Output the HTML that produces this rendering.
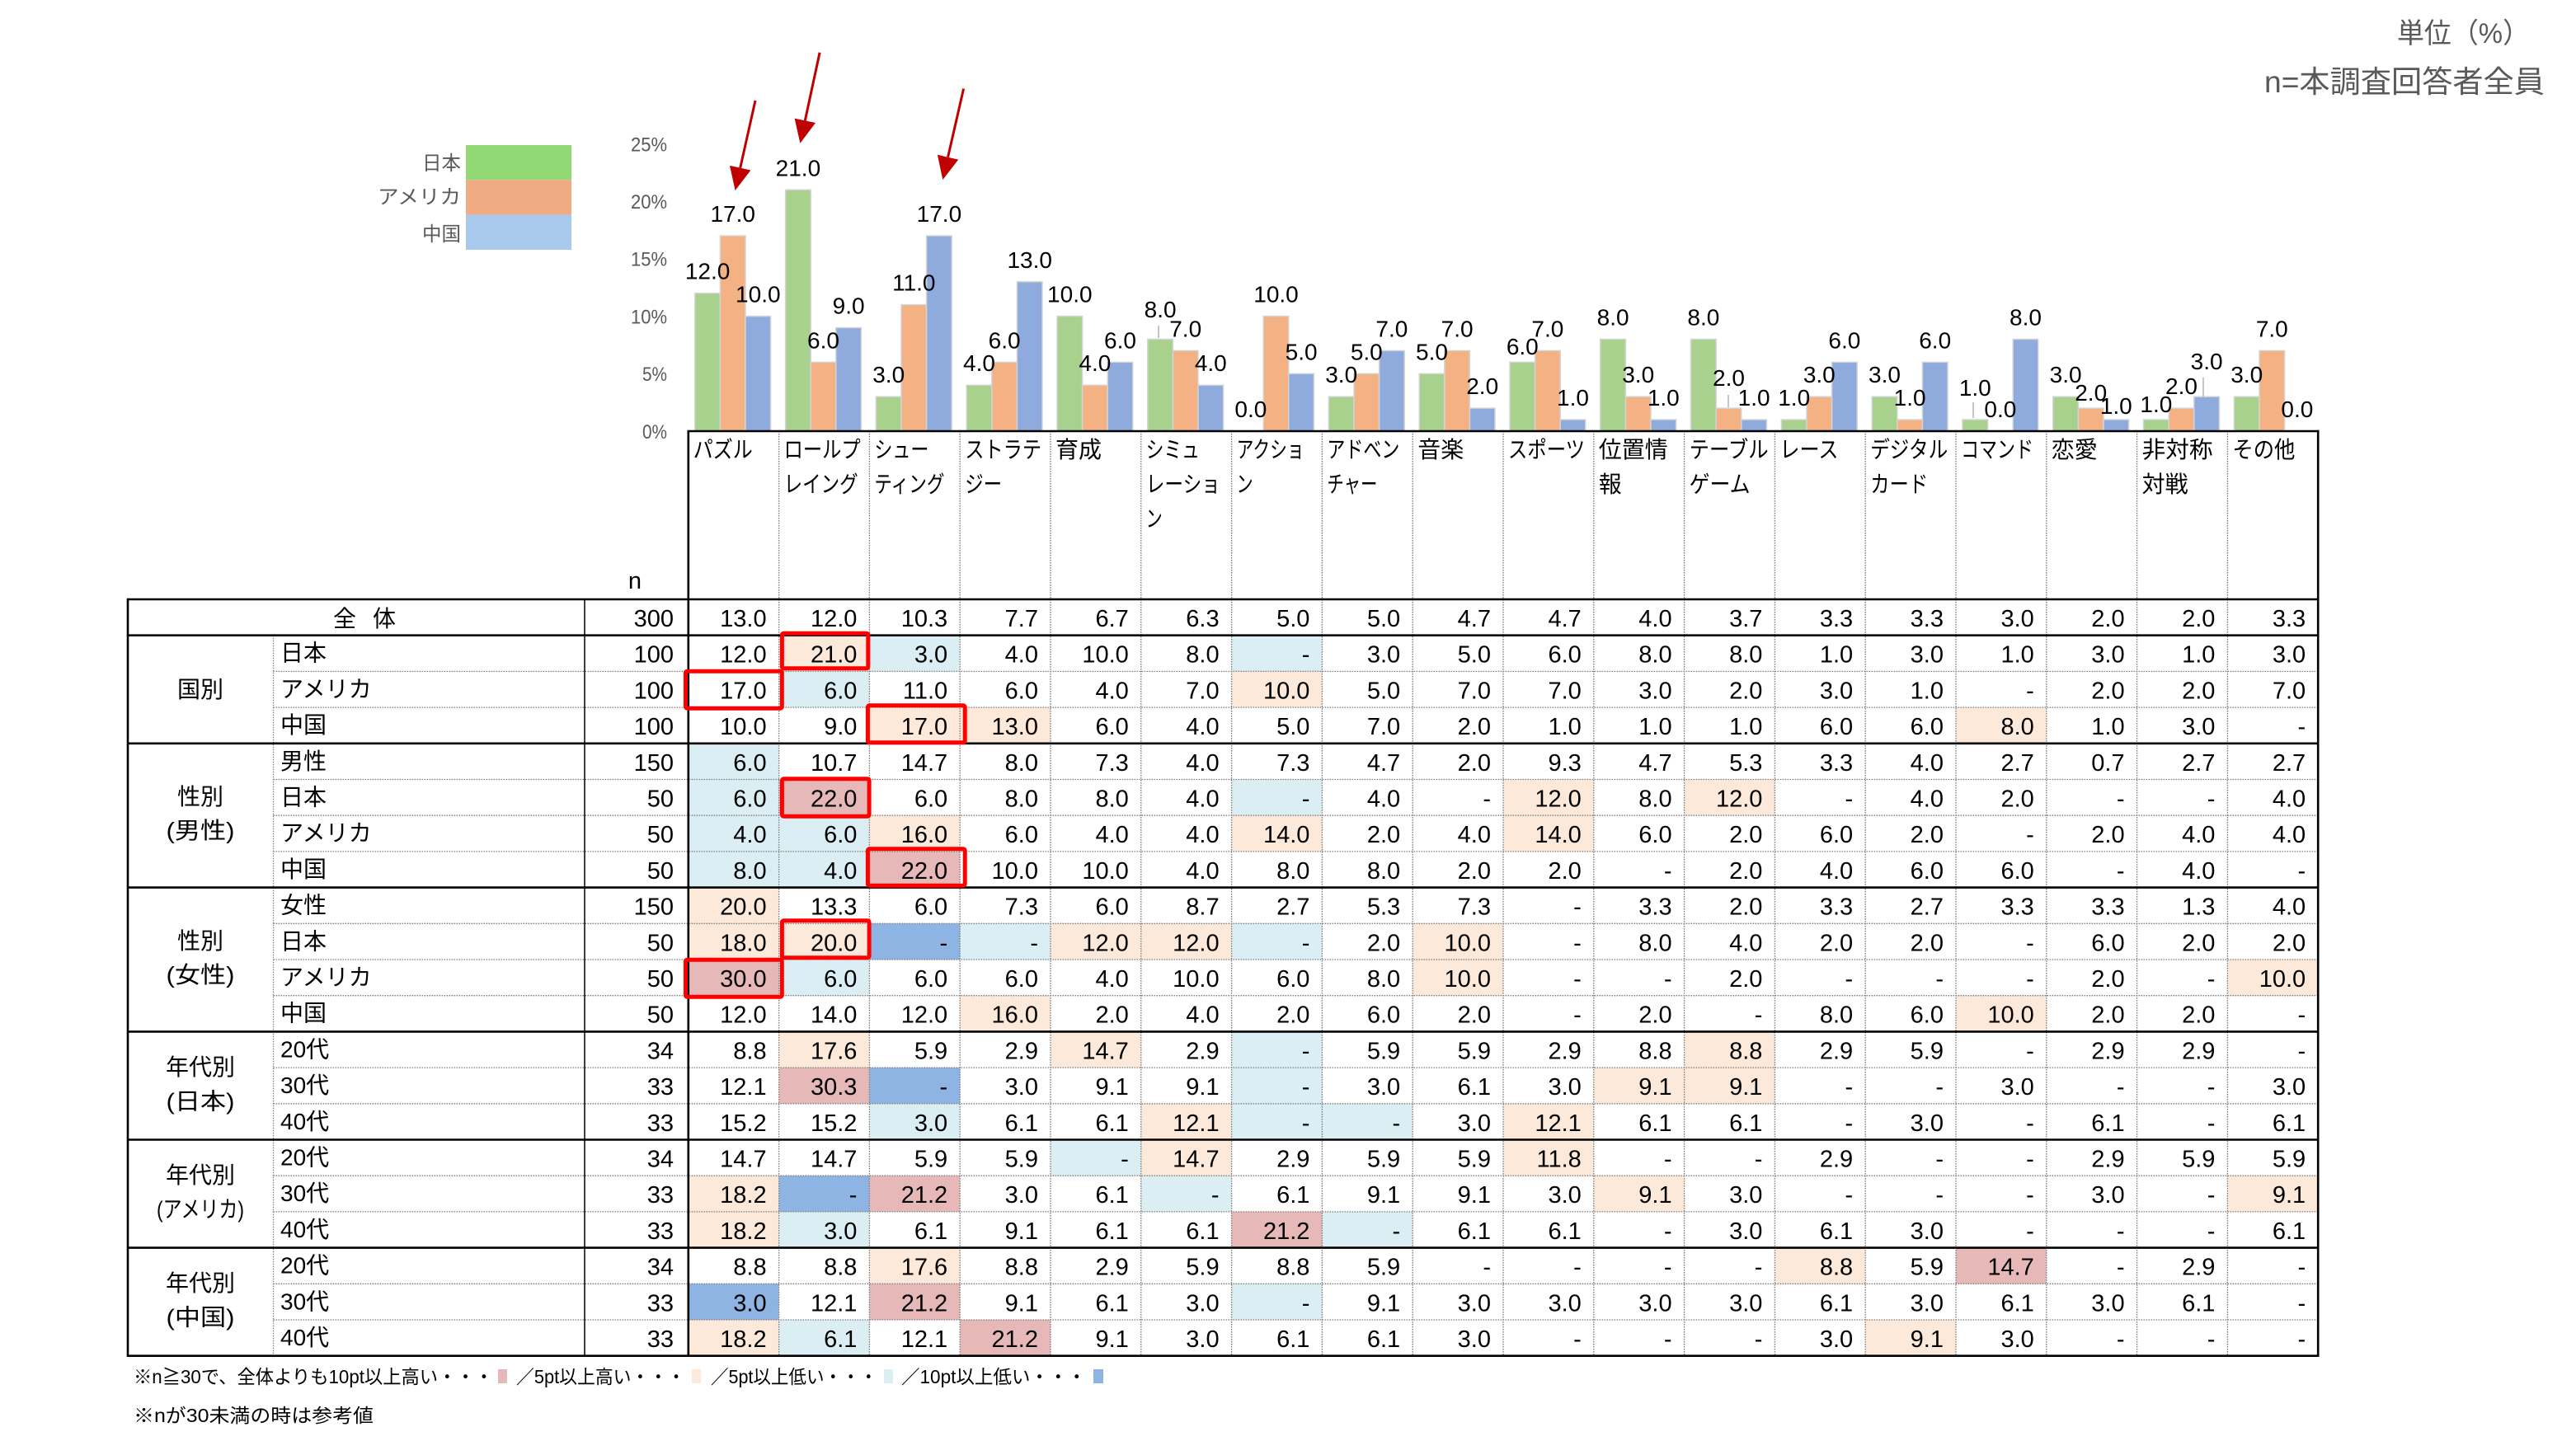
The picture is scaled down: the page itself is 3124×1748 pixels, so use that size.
<!DOCTYPE html>
<html><head><meta charset="utf-8"><style>
html,body{margin:0;padding:0;background:#fff;}
svg{display:block;}
text{font-family:"Liberation Sans","Noto Sans CJK JP",sans-serif;}
.d text{font-size:29px;text-anchor:end;fill:#000;}
.lab text{font-size:28px;fill:#000;text-anchor:middle;}
.cat text{font-size:28px;fill:#000;}
.sub text{font-size:28px;fill:#000;}
.grp text{font-size:28px;fill:#000;text-anchor:middle;}
.ax text{font-size:24px;fill:#595959;text-anchor:end;}
.lb{fill:#DAEEF3}.lo{fill:#FDE9D9}.pk{fill:#E6B8B7}.bl{fill:#8DB4E2}
.cells rect{width:109.8px;height:43.7px;}
.dot{stroke:#808080;stroke-width:1.3;stroke-dasharray:1.6 1.4;fill:none;}
.foot text{font-size:23px;fill:#000;}
</style></head><body>
<svg width="3124" height="1748" viewBox="0 0 3124 1748" xmlns="http://www.w3.org/2000/svg">
<rect x="0" y="0" width="3124" height="1748" fill="#fff"/>

<!-- top right -->
<text x="3068" y="52" font-size="34" fill="#595959" text-anchor="end" textLength="161" lengthAdjust="spacingAndGlyphs">単位（%）</text>
<text x="2746" y="112" font-size="37" fill="#595959" textLength="340" lengthAdjust="spacingAndGlyphs">n=本調査回答者全員</text>

<!-- legend -->
<rect x="565" y="176" width="128" height="42.3" fill="#92D874"/>
<rect x="565" y="218.3" width="128" height="42.3" fill="#F0AA84"/>
<rect x="565" y="260.6" width="128" height="42.4" fill="#A8C8EC"/>
<g class="ax">
<text x="559" y="206" textLength="47" lengthAdjust="spacingAndGlyphs">日本</text>
<text x="559" y="247" textLength="101" lengthAdjust="spacingAndGlyphs">アメリカ</text>
<text x="559" y="292" textLength="47" lengthAdjust="spacingAndGlyphs">中国</text>
</g>

<!-- y axis labels -->
<g class="ax">
<text x="809" y="183.5" textLength="44" lengthAdjust="spacingAndGlyphs">25%</text>
<text x="809" y="253" textLength="44" lengthAdjust="spacingAndGlyphs">20%</text>
<text x="809" y="322.7" textLength="44" lengthAdjust="spacingAndGlyphs">15%</text>
<text x="809" y="392.4" textLength="44" lengthAdjust="spacingAndGlyphs">10%</text>
<text x="809" y="462" textLength="30" lengthAdjust="spacingAndGlyphs">5%</text>
<text x="809" y="531.8" textLength="30" lengthAdjust="spacingAndGlyphs">0%</text>
</g>

<!-- bars -->
<g fill="#A9D18E" stroke="#D4D4D4" stroke-width="1.5">
<rect x="842.8" y="355.72" width="30.6" height="167.28"/>
<rect x="952.6" y="230.26" width="30.6" height="292.74"/>
<rect x="1062.4" y="481.18" width="30.6" height="41.82"/>
<rect x="1172.2" y="467.24" width="30.6" height="55.76"/>
<rect x="1282" y="383.6" width="30.6" height="139.4"/>
<rect x="1391.8" y="411.48" width="30.6" height="111.52"/>
<rect x="1611.4" y="481.18" width="30.6" height="41.82"/>
<rect x="1721.2" y="453.3" width="30.6" height="69.7"/>
<rect x="1831" y="439.36" width="30.6" height="83.64"/>
<rect x="1940.8" y="411.48" width="30.6" height="111.52"/>
<rect x="2050.6" y="411.48" width="30.6" height="111.52"/>
<rect x="2160.4" y="509.06" width="30.6" height="13.94"/>
<rect x="2270.2" y="481.18" width="30.6" height="41.82"/>
<rect x="2380" y="509.06" width="30.6" height="13.94"/>
<rect x="2489.8" y="481.18" width="30.6" height="41.82"/>
<rect x="2599.6" y="509.06" width="30.6" height="13.94"/>
<rect x="2709.4" y="481.18" width="30.6" height="41.82"/>
</g>
<g fill="#F4B183" stroke="#D4D4D4" stroke-width="1.5">
<rect x="873.4" y="286.02" width="30.6" height="236.98"/>
<rect x="983.2" y="439.36" width="30.6" height="83.64"/>
<rect x="1093" y="369.66" width="30.6" height="153.34"/>
<rect x="1202.8" y="439.36" width="30.6" height="83.64"/>
<rect x="1312.6" y="467.24" width="30.6" height="55.76"/>
<rect x="1422.4" y="425.42" width="30.6" height="97.58"/>
<rect x="1532.2" y="383.6" width="30.6" height="139.4"/>
<rect x="1642" y="453.3" width="30.6" height="69.7"/>
<rect x="1751.8" y="425.42" width="30.6" height="97.58"/>
<rect x="1861.6" y="425.42" width="30.6" height="97.58"/>
<rect x="1971.4" y="481.18" width="30.6" height="41.82"/>
<rect x="2081.2" y="495.12" width="30.6" height="27.88"/>
<rect x="2191" y="481.18" width="30.6" height="41.82"/>
<rect x="2300.8" y="509.06" width="30.6" height="13.94"/>
<rect x="2520.4" y="495.12" width="30.6" height="27.88"/>
<rect x="2630.2" y="495.12" width="30.6" height="27.88"/>
<rect x="2740" y="425.42" width="30.6" height="97.58"/>
</g>
<g fill="#8FAADC" stroke="#D4D4D4" stroke-width="1.5">
<rect x="904" y="383.6" width="30.6" height="139.4"/>
<rect x="1013.8" y="397.54" width="30.6" height="125.46"/>
<rect x="1123.6" y="286.02" width="30.6" height="236.98"/>
<rect x="1233.4" y="341.78" width="30.6" height="181.22"/>
<rect x="1343.2" y="439.36" width="30.6" height="83.64"/>
<rect x="1453" y="467.24" width="30.6" height="55.76"/>
<rect x="1562.8" y="453.3" width="30.6" height="69.7"/>
<rect x="1672.6" y="425.42" width="30.6" height="97.58"/>
<rect x="1782.4" y="495.12" width="30.6" height="27.88"/>
<rect x="1892.2" y="509.06" width="30.6" height="13.94"/>
<rect x="2002" y="509.06" width="30.6" height="13.94"/>
<rect x="2111.8" y="509.06" width="30.6" height="13.94"/>
<rect x="2221.6" y="439.36" width="30.6" height="83.64"/>
<rect x="2331.4" y="439.36" width="30.6" height="83.64"/>
<rect x="2441.2" y="411.48" width="30.6" height="111.52"/>
<rect x="2551" y="509.06" width="30.6" height="13.94"/>
<rect x="2660.8" y="481.18" width="30.6" height="41.82"/>
</g>

<!-- leader lines -->
<g stroke="#A6A6A6" stroke-width="1.3">
<line x1="1405" y1="395" x2="1405" y2="410"/>
<line x1="2096" y1="479" x2="2096" y2="494"/>
<line x1="2393" y1="488" x2="2393" y2="507"/>
<line x1="2672" y1="458" x2="2672" y2="481"/>
</g>

<!-- data labels -->
<g class="lab">
<text x="858.1" y="338.72">12.0</text>
<text x="967.9" y="213.26">21.0</text>
<text x="1077.7" y="464.18">3.0</text>
<text x="1187.5" y="450.24">4.0</text>
<text x="1297.3" y="366.6">10.0</text>
<text x="1407.1" y="385">8.0</text>
<text x="1516.9" y="506">0.0</text>
<text x="1626.7" y="464.18">3.0</text>
<text x="1736.5" y="436.3">5.0</text>
<text x="1846.3" y="430">6.0</text>
<text x="1956.1" y="394.48">8.0</text>
<text x="2065.9" y="394.48">8.0</text>
<text x="2175.7" y="492.06">1.0</text>
<text x="2285.5" y="464.18">3.0</text>
<text x="2395.3" y="480">1.0</text>
<text x="2505.1" y="464.18">3.0</text>
<text x="2614.9" y="500">1.0</text>
<text x="2724.7" y="464.18">3.0</text>

<text x="888.7" y="269.02">17.0</text>
<text x="998.5" y="422.36">6.0</text>
<text x="1108.3" y="352.66">11.0</text>
<text x="1218.1" y="422.36">6.0</text>
<text x="1327.9" y="450.24">4.0</text>
<text x="1437.7" y="408.42">7.0</text>
<text x="1547.5" y="366.6">10.0</text>
<text x="1657.3" y="436.3">5.0</text>
<text x="1767.1" y="408.42">7.0</text>
<text x="1876.9" y="408.42">7.0</text>
<text x="1986.7" y="464.18">3.0</text>
<text x="2096.5" y="468">2.0</text>
<text x="2206.3" y="464.18">3.0</text>
<text x="2316.1" y="492.06">1.0</text>
<text x="2425.9" y="506">0.0</text>
<text x="2535.7" y="486">2.0</text>
<text x="2645.5" y="478.12">2.0</text>
<text x="2755.3" y="408.42">7.0</text>

<text x="919.3" y="366.6">10.0</text>
<text x="1029.1" y="380.54">9.0</text>
<text x="1138.9" y="269.02">17.0</text>
<text x="1248.7" y="324.78">13.0</text>
<text x="1358.5" y="422.36">6.0</text>
<text x="1468.3" y="450.24">4.0</text>
<text x="1578.1" y="436.3">5.0</text>
<text x="1687.9" y="408.42">7.0</text>
<text x="1797.7" y="478.12">2.0</text>
<text x="1907.5" y="492.06">1.0</text>
<text x="2017.3" y="492.06">1.0</text>
<text x="2127.1" y="492.06">1.0</text>
<text x="2236.9" y="422.36">6.0</text>
<text x="2346.7" y="422.36">6.0</text>
<text x="2456.5" y="394.48">8.0</text>
<text x="2566.3" y="502">1.0</text>
<text x="2676.1" y="448">3.0</text>
<text x="2785.9" y="506">0.0</text>
</g>

<!-- red arrows -->
<g stroke="#C00000" stroke-width="3" fill="#C00000">
<line x1="916" y1="122" x2="897.7" y2="203.7"/>
<polygon stroke="none" points="891.6,231 910.4,206.5 885,200.9"/>
<line x1="994.1" y1="63.7" x2="976.3" y2="146.3"/>
<polygon stroke="none" points="970.4,173.7 989,149 963.6,143.6"/>
<line x1="1168.6" y1="107.6" x2="1149.55" y2="190.7"/>
<polygon stroke="none" points="1143.3,218 1162.2,193.6 1136.9,187.8"/>
</g>

<!-- category labels -->
<g class="cat">
<text x="840.8" y="555" textLength="72" lengthAdjust="spacingAndGlyphs">パズル</text>
<text x="950.6" y="555" textLength="93" lengthAdjust="spacingAndGlyphs">ロールプ</text>
<text x="950.6" y="597" textLength="90" lengthAdjust="spacingAndGlyphs">レイング</text>
<text x="1060.4" y="555" textLength="66" lengthAdjust="spacingAndGlyphs">シュー</text>
<text x="1060.4" y="597" textLength="85" lengthAdjust="spacingAndGlyphs">ティング</text>
<text x="1170.2" y="555" textLength="93" lengthAdjust="spacingAndGlyphs">ストラテ</text>
<text x="1170.2" y="597" textLength="45" lengthAdjust="spacingAndGlyphs">ジー</text>
<text x="1280" y="555">育成</text>
<text x="1389.8" y="555" textLength="65" lengthAdjust="spacingAndGlyphs">シミュ</text>
<text x="1389.8" y="597" textLength="90" lengthAdjust="spacingAndGlyphs">レーショ</text>
<text x="1389.8" y="639" textLength="20" lengthAdjust="spacingAndGlyphs">ン</text>
<text x="1499.6" y="555" textLength="82" lengthAdjust="spacingAndGlyphs">アクショ</text>
<text x="1499.6" y="597" textLength="20" lengthAdjust="spacingAndGlyphs">ン</text>
<text x="1609.4" y="555" textLength="88" lengthAdjust="spacingAndGlyphs">アドベン</text>
<text x="1609.4" y="597" textLength="61" lengthAdjust="spacingAndGlyphs">チャー</text>
<text x="1719.2" y="555">音楽</text>
<text x="1829" y="555" textLength="93" lengthAdjust="spacingAndGlyphs">スポーツ</text>
<text x="1938.8" y="555">位置情</text>
<text x="1938.8" y="597">報</text>
<text x="2048.6" y="555" textLength="96" lengthAdjust="spacingAndGlyphs">テーブル</text>
<text x="2048.6" y="597" textLength="74" lengthAdjust="spacingAndGlyphs">ゲーム</text>
<text x="2158.4" y="555" textLength="71" lengthAdjust="spacingAndGlyphs">レース</text>
<text x="2268.2" y="555" textLength="94" lengthAdjust="spacingAndGlyphs">デジタル</text>
<text x="2268.2" y="597" textLength="70" lengthAdjust="spacingAndGlyphs">カード</text>
<text x="2378" y="555" textLength="88" lengthAdjust="spacingAndGlyphs">コマンド</text>
<text x="2487.8" y="555">恋愛</text>
<text x="2597.6" y="555" textLength="86" lengthAdjust="spacingAndGlyphs">非対称</text>
<text x="2597.6" y="597">対戦</text>
<text x="2707.4" y="555" textLength="76" lengthAdjust="spacingAndGlyphs">その他</text>
</g>

<text x="770" y="714" font-size="29" text-anchor="middle">n</text>

<!-- cell backgrounds -->
<g class="cells">
<rect class="lo" x="944.6" y="770.7" width="109.8" height="43.7"/>
<rect class="lb" x="1054.4" y="770.7" width="109.8" height="43.7"/>
<rect class="lb" x="1493.6" y="770.7" width="109.8" height="43.7"/>
<rect class="lb" x="944.6" y="814.4" width="109.8" height="43.7"/>
<rect class="lo" x="1493.6" y="814.4" width="109.8" height="43.7"/>
<rect class="lo" x="1054.4" y="858.1" width="109.8" height="43.7"/>
<rect class="lo" x="1164.2" y="858.1" width="109.8" height="43.7"/>
<rect class="lo" x="2372" y="858.1" width="109.8" height="43.7"/>
<rect class="lb" x="834.8" y="901.8" width="109.8" height="43.7"/>
<rect class="lb" x="834.8" y="945.5" width="109.8" height="43.7"/>
<rect class="pk" x="944.6" y="945.5" width="109.8" height="43.7"/>
<rect class="lb" x="1493.6" y="945.5" width="109.8" height="43.7"/>
<rect class="lo" x="1823" y="945.5" width="109.8" height="43.7"/>
<rect class="lo" x="2042.6" y="945.5" width="109.8" height="43.7"/>
<rect class="lb" x="834.8" y="989.2" width="109.8" height="43.7"/>
<rect class="lb" x="944.6" y="989.2" width="109.8" height="43.7"/>
<rect class="lo" x="1054.4" y="989.2" width="109.8" height="43.7"/>
<rect class="lo" x="1493.6" y="989.2" width="109.8" height="43.7"/>
<rect class="lo" x="1823" y="989.2" width="109.8" height="43.7"/>
<rect class="lb" x="834.8" y="1032.9" width="109.8" height="43.7"/>
<rect class="lb" x="944.6" y="1032.9" width="109.8" height="43.7"/>
<rect class="pk" x="1054.4" y="1032.9" width="109.8" height="43.7"/>
<rect class="lo" x="834.8" y="1076.6" width="109.8" height="43.7"/>
<rect class="lo" x="834.8" y="1120.3" width="109.8" height="43.7"/>
<rect class="lo" x="944.6" y="1120.3" width="109.8" height="43.7"/>
<rect class="bl" x="1054.4" y="1120.3" width="109.8" height="43.7"/>
<rect class="lb" x="1164.2" y="1120.3" width="109.8" height="43.7"/>
<rect class="lo" x="1274" y="1120.3" width="109.8" height="43.7"/>
<rect class="lo" x="1383.8" y="1120.3" width="109.8" height="43.7"/>
<rect class="lb" x="1493.6" y="1120.3" width="109.8" height="43.7"/>
<rect class="lo" x="1713.2" y="1120.3" width="109.8" height="43.7"/>
<rect class="pk" x="834.8" y="1164" width="109.8" height="43.7"/>
<rect class="lb" x="944.6" y="1164" width="109.8" height="43.7"/>
<rect class="lo" x="1713.2" y="1164" width="109.8" height="43.7"/>
<rect class="lo" x="2701.4" y="1164" width="109.8" height="43.7"/>
<rect class="lo" x="1164.2" y="1207.7" width="109.8" height="43.7"/>
<rect class="lo" x="2372" y="1207.7" width="109.8" height="43.7"/>
<rect class="lo" x="944.6" y="1251.4" width="109.8" height="43.7"/>
<rect class="lo" x="1274" y="1251.4" width="109.8" height="43.7"/>
<rect class="lb" x="1493.6" y="1251.4" width="109.8" height="43.7"/>
<rect class="lo" x="2042.6" y="1251.4" width="109.8" height="43.7"/>
<rect class="pk" x="944.6" y="1295.1" width="109.8" height="43.7"/>
<rect class="bl" x="1054.4" y="1295.1" width="109.8" height="43.7"/>
<rect class="lb" x="1493.6" y="1295.1" width="109.8" height="43.7"/>
<rect class="lo" x="1932.8" y="1295.1" width="109.8" height="43.7"/>
<rect class="lo" x="2042.6" y="1295.1" width="109.8" height="43.7"/>
<rect class="lb" x="1054.4" y="1338.8" width="109.8" height="43.7"/>
<rect class="lo" x="1383.8" y="1338.8" width="109.8" height="43.7"/>
<rect class="lb" x="1493.6" y="1338.8" width="109.8" height="43.7"/>
<rect class="lb" x="1603.4" y="1338.8" width="109.8" height="43.7"/>
<rect class="lo" x="1823" y="1338.8" width="109.8" height="43.7"/>
<rect class="lb" x="1274" y="1382.5" width="109.8" height="43.7"/>
<rect class="lo" x="1383.8" y="1382.5" width="109.8" height="43.7"/>
<rect class="lo" x="1823" y="1382.5" width="109.8" height="43.7"/>
<rect class="lo" x="834.8" y="1426.2" width="109.8" height="43.7"/>
<rect class="bl" x="944.6" y="1426.2" width="109.8" height="43.7"/>
<rect class="pk" x="1054.4" y="1426.2" width="109.8" height="43.7"/>
<rect class="lb" x="1383.8" y="1426.2" width="109.8" height="43.7"/>
<rect class="lo" x="1932.8" y="1426.2" width="109.8" height="43.7"/>
<rect class="lo" x="2701.4" y="1426.2" width="109.8" height="43.7"/>
<rect class="lo" x="834.8" y="1469.9" width="109.8" height="43.7"/>
<rect class="lb" x="944.6" y="1469.9" width="109.8" height="43.7"/>
<rect class="pk" x="1493.6" y="1469.9" width="109.8" height="43.7"/>
<rect class="lb" x="1603.4" y="1469.9" width="109.8" height="43.7"/>
<rect class="lo" x="1054.4" y="1513.6" width="109.8" height="43.7"/>
<rect class="lo" x="2152.4" y="1513.6" width="109.8" height="43.7"/>
<rect class="pk" x="2372" y="1513.6" width="109.8" height="43.7"/>
<rect class="bl" x="834.8" y="1557.3" width="109.8" height="43.7"/>
<rect class="pk" x="1054.4" y="1557.3" width="109.8" height="43.7"/>
<rect class="lb" x="1493.6" y="1557.3" width="109.8" height="43.7"/>
<rect class="lo" x="834.8" y="1601" width="109.8" height="43.7"/>
<rect class="lb" x="944.6" y="1601" width="109.8" height="43.7"/>
<rect class="pk" x="1164.2" y="1601" width="109.8" height="43.7"/>
<rect class="lo" x="2262.2" y="1601" width="109.8" height="43.7"/>
</g>

<!-- dotted grid -->
<g class="dot">
<line x1="331.5" y1="814.4" x2="2811.2" y2="814.4"/>
<line x1="331.5" y1="858.1" x2="2811.2" y2="858.1"/>
<line x1="331.5" y1="945.5" x2="2811.2" y2="945.5"/>
<line x1="331.5" y1="989.2" x2="2811.2" y2="989.2"/>
<line x1="331.5" y1="1032.9" x2="2811.2" y2="1032.9"/>
<line x1="331.5" y1="1120.3" x2="2811.2" y2="1120.3"/>
<line x1="331.5" y1="1164" x2="2811.2" y2="1164"/>
<line x1="331.5" y1="1207.7" x2="2811.2" y2="1207.7"/>
<line x1="331.5" y1="1295.1" x2="2811.2" y2="1295.1"/>
<line x1="331.5" y1="1338.8" x2="2811.2" y2="1338.8"/>
<line x1="331.5" y1="1426.2" x2="2811.2" y2="1426.2"/>
<line x1="331.5" y1="1469.9" x2="2811.2" y2="1469.9"/>
<line x1="331.5" y1="1557.3" x2="2811.2" y2="1557.3"/>
<line x1="331.5" y1="1601" x2="2811.2" y2="1601"/>
<line x1="331.5" y1="770.7" x2="331.5" y2="1644.7"/>
<line x1="944.6" y1="523" x2="944.6" y2="1644.7"/>
<line x1="1054.4" y1="523" x2="1054.4" y2="1644.7"/>
<line x1="1164.2" y1="523" x2="1164.2" y2="1644.7"/>
<line x1="1274" y1="523" x2="1274" y2="1644.7"/>
<line x1="1383.8" y1="523" x2="1383.8" y2="1644.7"/>
<line x1="1493.6" y1="523" x2="1493.6" y2="1644.7"/>
<line x1="1603.4" y1="523" x2="1603.4" y2="1644.7"/>
<line x1="1713.2" y1="523" x2="1713.2" y2="1644.7"/>
<line x1="1823" y1="523" x2="1823" y2="1644.7"/>
<line x1="1932.8" y1="523" x2="1932.8" y2="1644.7"/>
<line x1="2042.6" y1="523" x2="2042.6" y2="1644.7"/>
<line x1="2152.4" y1="523" x2="2152.4" y2="1644.7"/>
<line x1="2262.2" y1="523" x2="2262.2" y2="1644.7"/>
<line x1="2372" y1="523" x2="2372" y2="1644.7"/>
<line x1="2481.8" y1="523" x2="2481.8" y2="1644.7"/>
<line x1="2591.6" y1="523" x2="2591.6" y2="1644.7"/>
<line x1="2701.4" y1="523" x2="2701.4" y2="1644.7"/>
</g>

<!-- solid lines -->
<g stroke="#000" stroke-width="2.6">
<line x1="155" y1="727" x2="2811.2" y2="727"/>
<line x1="155" y1="770.7" x2="2811.2" y2="770.7"/>
<line x1="155" y1="901.8" x2="2811.2" y2="901.8"/>
<line x1="155" y1="1076.6" x2="2811.2" y2="1076.6"/>
<line x1="155" y1="1251.4" x2="2811.2" y2="1251.4"/>
<line x1="155" y1="1382.5" x2="2811.2" y2="1382.5"/>
<line x1="155" y1="1513.6" x2="2811.2" y2="1513.6"/>
<line x1="155" y1="1644.7" x2="2811.2" y2="1644.7"/>
<line x1="833.5" y1="523" x2="2812.5" y2="523"/>
<line x1="155" y1="725.7" x2="155" y2="1646"/>
<line x1="834.8" y1="523" x2="834.8" y2="1646"/>
<line x1="2811.2" y1="521.7" x2="2811.2" y2="1646"/>
</g>
<line x1="709" y1="727" x2="709" y2="1644.7" stroke="#000" stroke-width="1.5"/>

<!-- left labels -->
<text x="418" y="760" font-size="28" text-anchor="middle">全</text>
<text x="466" y="760" font-size="28" text-anchor="middle">体</text>
<g class="grp">
<text x="243" y="846">国別</text>
<text x="243" y="976">性別</text>
<text x="243" y="1017" textLength="83" lengthAdjust="spacingAndGlyphs">(男性)</text>
<text x="243" y="1151">性別</text>
<text x="243" y="1192" textLength="83" lengthAdjust="spacingAndGlyphs">(女性)</text>
<text x="243" y="1304">年代別</text>
<text x="243" y="1345.5" textLength="83" lengthAdjust="spacingAndGlyphs">(日本)</text>
<text x="243" y="1435">年代別</text>
<text x="243" y="1476.5" textLength="106" lengthAdjust="spacingAndGlyphs">(アメリカ)</text>
<text x="243" y="1566">年代別</text>
<text x="243" y="1607.5" textLength="83" lengthAdjust="spacingAndGlyphs">(中国)</text>
</g>
<g class="sub">
<text x="340" y="801.7">日本</text>
<text x="340" y="845.4">アメリカ</text>
<text x="340" y="889.1">中国</text>
<text x="340" y="932.8">男性</text>
<text x="340" y="976.5">日本</text>
<text x="340" y="1020.2">アメリカ</text>
<text x="340" y="1063.9">中国</text>
<text x="340" y="1107.6">女性</text>
<text x="340" y="1151.3">日本</text>
<text x="340" y="1195">アメリカ</text>
<text x="340" y="1238.7">中国</text>
<text x="340" y="1282.4">20代</text>
<text x="340" y="1326.1">30代</text>
<text x="340" y="1369.8">40代</text>
<text x="340" y="1413.5">20代</text>
<text x="340" y="1457.2">30代</text>
<text x="340" y="1500.9">40代</text>
<text x="340" y="1544.6">20代</text>
<text x="340" y="1588.3">30代</text>
<text x="340" y="1632">40代</text>
</g>
<g class="d">
<text x="817" y="760">300</text>
<text x="817" y="803.7">100</text>
<text x="817" y="847.4">100</text>
<text x="817" y="891.1">100</text>
<text x="817" y="934.8">150</text>
<text x="817" y="978.5">50</text>
<text x="817" y="1022.2">50</text>
<text x="817" y="1065.9">50</text>
<text x="817" y="1109.6">150</text>
<text x="817" y="1153.3">50</text>
<text x="817" y="1197">50</text>
<text x="817" y="1240.7">50</text>
<text x="817" y="1284.4">34</text>
<text x="817" y="1328.1">33</text>
<text x="817" y="1371.8">33</text>
<text x="817" y="1415.5">34</text>
<text x="817" y="1459.2">33</text>
<text x="817" y="1502.9">33</text>
<text x="817" y="1546.6">34</text>
<text x="817" y="1590.3">33</text>
<text x="817" y="1634">33</text>
</g>

<!-- data values -->
<g class="d" transform="translate(0,760)"><text x="929.6">13.0</text><text x="1039.4">12.0</text><text x="1149.2">10.3</text><text x="1259">7.7</text><text x="1368.8">6.7</text><text x="1478.6">6.3</text><text x="1588.4">5.0</text><text x="1698.2">5.0</text><text x="1808">4.7</text><text x="1917.8">4.7</text><text x="2027.6">4.0</text><text x="2137.4">3.7</text><text x="2247.2">3.3</text><text x="2357">3.3</text><text x="2466.8">3.0</text><text x="2576.6">2.0</text><text x="2686.4">2.0</text><text x="2796.2">3.3</text></g>
<g class="d" transform="translate(0,803.7)"><text x="929.6">12.0</text><text x="1039.4">21.0</text><text x="1149.2">3.0</text><text x="1259">4.0</text><text x="1368.8">10.0</text><text x="1478.6">8.0</text><text x="1588.4">-</text><text x="1698.2">3.0</text><text x="1808">5.0</text><text x="1917.8">6.0</text><text x="2027.6">8.0</text><text x="2137.4">8.0</text><text x="2247.2">1.0</text><text x="2357">3.0</text><text x="2466.8">1.0</text><text x="2576.6">3.0</text><text x="2686.4">1.0</text><text x="2796.2">3.0</text></g>
<g class="d" transform="translate(0,847.4)"><text x="929.6">17.0</text><text x="1039.4">6.0</text><text x="1149.2">11.0</text><text x="1259">6.0</text><text x="1368.8">4.0</text><text x="1478.6">7.0</text><text x="1588.4">10.0</text><text x="1698.2">5.0</text><text x="1808">7.0</text><text x="1917.8">7.0</text><text x="2027.6">3.0</text><text x="2137.4">2.0</text><text x="2247.2">3.0</text><text x="2357">1.0</text><text x="2466.8">-</text><text x="2576.6">2.0</text><text x="2686.4">2.0</text><text x="2796.2">7.0</text></g>
<g class="d" transform="translate(0,891.1)"><text x="929.6">10.0</text><text x="1039.4">9.0</text><text x="1149.2">17.0</text><text x="1259">13.0</text><text x="1368.8">6.0</text><text x="1478.6">4.0</text><text x="1588.4">5.0</text><text x="1698.2">7.0</text><text x="1808">2.0</text><text x="1917.8">1.0</text><text x="2027.6">1.0</text><text x="2137.4">1.0</text><text x="2247.2">6.0</text><text x="2357">6.0</text><text x="2466.8">8.0</text><text x="2576.6">1.0</text><text x="2686.4">3.0</text><text x="2796.2">-</text></g>
<g class="d" transform="translate(0,934.8)"><text x="929.6">6.0</text><text x="1039.4">10.7</text><text x="1149.2">14.7</text><text x="1259">8.0</text><text x="1368.8">7.3</text><text x="1478.6">4.0</text><text x="1588.4">7.3</text><text x="1698.2">4.7</text><text x="1808">2.0</text><text x="1917.8">9.3</text><text x="2027.6">4.7</text><text x="2137.4">5.3</text><text x="2247.2">3.3</text><text x="2357">4.0</text><text x="2466.8">2.7</text><text x="2576.6">0.7</text><text x="2686.4">2.7</text><text x="2796.2">2.7</text></g>
<g class="d" transform="translate(0,978.5)"><text x="929.6">6.0</text><text x="1039.4">22.0</text><text x="1149.2">6.0</text><text x="1259">8.0</text><text x="1368.8">8.0</text><text x="1478.6">4.0</text><text x="1588.4">-</text><text x="1698.2">4.0</text><text x="1808">-</text><text x="1917.8">12.0</text><text x="2027.6">8.0</text><text x="2137.4">12.0</text><text x="2247.2">-</text><text x="2357">4.0</text><text x="2466.8">2.0</text><text x="2576.6">-</text><text x="2686.4">-</text><text x="2796.2">4.0</text></g>
<g class="d" transform="translate(0,1022.2)"><text x="929.6">4.0</text><text x="1039.4">6.0</text><text x="1149.2">16.0</text><text x="1259">6.0</text><text x="1368.8">4.0</text><text x="1478.6">4.0</text><text x="1588.4">14.0</text><text x="1698.2">2.0</text><text x="1808">4.0</text><text x="1917.8">14.0</text><text x="2027.6">6.0</text><text x="2137.4">2.0</text><text x="2247.2">6.0</text><text x="2357">2.0</text><text x="2466.8">-</text><text x="2576.6">2.0</text><text x="2686.4">4.0</text><text x="2796.2">4.0</text></g>
<g class="d" transform="translate(0,1065.9)"><text x="929.6">8.0</text><text x="1039.4">4.0</text><text x="1149.2">22.0</text><text x="1259">10.0</text><text x="1368.8">10.0</text><text x="1478.6">4.0</text><text x="1588.4">8.0</text><text x="1698.2">8.0</text><text x="1808">2.0</text><text x="1917.8">2.0</text><text x="2027.6">-</text><text x="2137.4">2.0</text><text x="2247.2">4.0</text><text x="2357">6.0</text><text x="2466.8">6.0</text><text x="2576.6">-</text><text x="2686.4">4.0</text><text x="2796.2">-</text></g>
<g class="d" transform="translate(0,1109.6)"><text x="929.6">20.0</text><text x="1039.4">13.3</text><text x="1149.2">6.0</text><text x="1259">7.3</text><text x="1368.8">6.0</text><text x="1478.6">8.7</text><text x="1588.4">2.7</text><text x="1698.2">5.3</text><text x="1808">7.3</text><text x="1917.8">-</text><text x="2027.6">3.3</text><text x="2137.4">2.0</text><text x="2247.2">3.3</text><text x="2357">2.7</text><text x="2466.8">3.3</text><text x="2576.6">3.3</text><text x="2686.4">1.3</text><text x="2796.2">4.0</text></g>
<g class="d" transform="translate(0,1153.3)"><text x="929.6">18.0</text><text x="1039.4">20.0</text><text x="1149.2">-</text><text x="1259">-</text><text x="1368.8">12.0</text><text x="1478.6">12.0</text><text x="1588.4">-</text><text x="1698.2">2.0</text><text x="1808">10.0</text><text x="1917.8">-</text><text x="2027.6">8.0</text><text x="2137.4">4.0</text><text x="2247.2">2.0</text><text x="2357">2.0</text><text x="2466.8">-</text><text x="2576.6">6.0</text><text x="2686.4">2.0</text><text x="2796.2">2.0</text></g>
<g class="d" transform="translate(0,1197)"><text x="929.6">30.0</text><text x="1039.4">6.0</text><text x="1149.2">6.0</text><text x="1259">6.0</text><text x="1368.8">4.0</text><text x="1478.6">10.0</text><text x="1588.4">6.0</text><text x="1698.2">8.0</text><text x="1808">10.0</text><text x="1917.8">-</text><text x="2027.6">-</text><text x="2137.4">2.0</text><text x="2247.2">-</text><text x="2357">-</text><text x="2466.8">-</text><text x="2576.6">2.0</text><text x="2686.4">-</text><text x="2796.2">10.0</text></g>
<g class="d" transform="translate(0,1240.7)"><text x="929.6">12.0</text><text x="1039.4">14.0</text><text x="1149.2">12.0</text><text x="1259">16.0</text><text x="1368.8">2.0</text><text x="1478.6">4.0</text><text x="1588.4">2.0</text><text x="1698.2">6.0</text><text x="1808">2.0</text><text x="1917.8">-</text><text x="2027.6">2.0</text><text x="2137.4">-</text><text x="2247.2">8.0</text><text x="2357">6.0</text><text x="2466.8">10.0</text><text x="2576.6">2.0</text><text x="2686.4">2.0</text><text x="2796.2">-</text></g>
<g class="d" transform="translate(0,1284.4)"><text x="929.6">8.8</text><text x="1039.4">17.6</text><text x="1149.2">5.9</text><text x="1259">2.9</text><text x="1368.8">14.7</text><text x="1478.6">2.9</text><text x="1588.4">-</text><text x="1698.2">5.9</text><text x="1808">5.9</text><text x="1917.8">2.9</text><text x="2027.6">8.8</text><text x="2137.4">8.8</text><text x="2247.2">2.9</text><text x="2357">5.9</text><text x="2466.8">-</text><text x="2576.6">2.9</text><text x="2686.4">2.9</text><text x="2796.2">-</text></g>
<g class="d" transform="translate(0,1328.1)"><text x="929.6">12.1</text><text x="1039.4">30.3</text><text x="1149.2">-</text><text x="1259">3.0</text><text x="1368.8">9.1</text><text x="1478.6">9.1</text><text x="1588.4">-</text><text x="1698.2">3.0</text><text x="1808">6.1</text><text x="1917.8">3.0</text><text x="2027.6">9.1</text><text x="2137.4">9.1</text><text x="2247.2">-</text><text x="2357">-</text><text x="2466.8">3.0</text><text x="2576.6">-</text><text x="2686.4">-</text><text x="2796.2">3.0</text></g>
<g class="d" transform="translate(0,1371.8)"><text x="929.6">15.2</text><text x="1039.4">15.2</text><text x="1149.2">3.0</text><text x="1259">6.1</text><text x="1368.8">6.1</text><text x="1478.6">12.1</text><text x="1588.4">-</text><text x="1698.2">-</text><text x="1808">3.0</text><text x="1917.8">12.1</text><text x="2027.6">6.1</text><text x="2137.4">6.1</text><text x="2247.2">-</text><text x="2357">3.0</text><text x="2466.8">-</text><text x="2576.6">6.1</text><text x="2686.4">-</text><text x="2796.2">6.1</text></g>
<g class="d" transform="translate(0,1415.5)"><text x="929.6">14.7</text><text x="1039.4">14.7</text><text x="1149.2">5.9</text><text x="1259">5.9</text><text x="1368.8">-</text><text x="1478.6">14.7</text><text x="1588.4">2.9</text><text x="1698.2">5.9</text><text x="1808">5.9</text><text x="1917.8">11.8</text><text x="2027.6">-</text><text x="2137.4">-</text><text x="2247.2">2.9</text><text x="2357">-</text><text x="2466.8">-</text><text x="2576.6">2.9</text><text x="2686.4">5.9</text><text x="2796.2">5.9</text></g>
<g class="d" transform="translate(0,1459.2)"><text x="929.6">18.2</text><text x="1039.4">-</text><text x="1149.2">21.2</text><text x="1259">3.0</text><text x="1368.8">6.1</text><text x="1478.6">-</text><text x="1588.4">6.1</text><text x="1698.2">9.1</text><text x="1808">9.1</text><text x="1917.8">3.0</text><text x="2027.6">9.1</text><text x="2137.4">3.0</text><text x="2247.2">-</text><text x="2357">-</text><text x="2466.8">-</text><text x="2576.6">3.0</text><text x="2686.4">-</text><text x="2796.2">9.1</text></g>
<g class="d" transform="translate(0,1502.9)"><text x="929.6">18.2</text><text x="1039.4">3.0</text><text x="1149.2">6.1</text><text x="1259">9.1</text><text x="1368.8">6.1</text><text x="1478.6">6.1</text><text x="1588.4">21.2</text><text x="1698.2">-</text><text x="1808">6.1</text><text x="1917.8">6.1</text><text x="2027.6">-</text><text x="2137.4">3.0</text><text x="2247.2">6.1</text><text x="2357">3.0</text><text x="2466.8">-</text><text x="2576.6">-</text><text x="2686.4">-</text><text x="2796.2">6.1</text></g>
<g class="d" transform="translate(0,1546.6)"><text x="929.6">8.8</text><text x="1039.4">8.8</text><text x="1149.2">17.6</text><text x="1259">8.8</text><text x="1368.8">2.9</text><text x="1478.6">5.9</text><text x="1588.4">8.8</text><text x="1698.2">5.9</text><text x="1808">-</text><text x="1917.8">-</text><text x="2027.6">-</text><text x="2137.4">-</text><text x="2247.2">8.8</text><text x="2357">5.9</text><text x="2466.8">14.7</text><text x="2576.6">-</text><text x="2686.4">2.9</text><text x="2796.2">-</text></g>
<g class="d" transform="translate(0,1590.3)"><text x="929.6">3.0</text><text x="1039.4">12.1</text><text x="1149.2">21.2</text><text x="1259">9.1</text><text x="1368.8">6.1</text><text x="1478.6">3.0</text><text x="1588.4">-</text><text x="1698.2">9.1</text><text x="1808">3.0</text><text x="1917.8">3.0</text><text x="2027.6">3.0</text><text x="2137.4">3.0</text><text x="2247.2">6.1</text><text x="2357">3.0</text><text x="2466.8">6.1</text><text x="2576.6">3.0</text><text x="2686.4">6.1</text><text x="2796.2">-</text></g>
<g class="d" transform="translate(0,1634)"><text x="929.6">18.2</text><text x="1039.4">6.1</text><text x="1149.2">12.1</text><text x="1259">21.2</text><text x="1368.8">9.1</text><text x="1478.6">3.0</text><text x="1588.4">6.1</text><text x="1698.2">6.1</text><text x="1808">3.0</text><text x="1917.8">-</text><text x="2027.6">-</text><text x="2137.4">-</text><text x="2247.2">3.0</text><text x="2357">9.1</text><text x="2466.8">3.0</text><text x="2576.6">-</text><text x="2686.4">-</text><text x="2796.2">-</text></g>

<!-- red boxes -->
<g fill="none" stroke="#FF0000" stroke-width="5">
<rect x="948.4" y="768.2" width="104.4" height="42.6" rx="2"/>
<rect x="831.4" y="814.2" width="116.9" height="45" rx="2"/>
<rect x="1052.4" y="855.8" width="117.8" height="45" rx="2"/>
<rect x="948.4" y="944.8" width="105.7" height="45.4" rx="2"/>
<rect x="1052.4" y="1029.8" width="117.8" height="44.4" rx="2"/>
<rect x="948.4" y="1116.8" width="105.7" height="45" rx="2"/>
<rect x="831.4" y="1164.2" width="116.9" height="45" rx="2"/>
</g>

<!-- footnotes -->
<g class="foot">
<text x="162" y="1678" textLength="436" lengthAdjust="spacingAndGlyphs">※n≧30で、全体よりも10pt以上高い・・・</text>
<text x="626" y="1678" textLength="205" lengthAdjust="spacingAndGlyphs">／5pt以上高い・・・</text>
<text x="862" y="1678" textLength="202" lengthAdjust="spacingAndGlyphs">／5pt以上低い・・・</text>
<text x="1093" y="1678" textLength="224" lengthAdjust="spacingAndGlyphs">／10pt以上低い・・・</text>
<text x="162" y="1725" textLength="291" lengthAdjust="spacingAndGlyphs">※nが30未満の時は参考値</text>
</g>
<rect x="604" y="1661" width="11" height="17" fill="#E6B8B7"/>
<rect x="839" y="1661" width="11" height="17" fill="#FDE9D9"/>
<rect x="1072" y="1661" width="11" height="17" fill="#DAEEF3"/>
<rect x="1326" y="1661" width="12" height="17" fill="#8DB4E2"/>
</svg>
</body></html>
